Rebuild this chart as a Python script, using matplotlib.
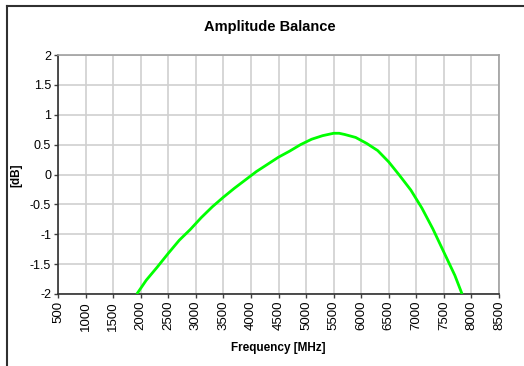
import matplotlib
matplotlib.use("Agg")
import matplotlib.pyplot as plt
from matplotlib.lines import Line2D

plt.rcParams["font.family"] = ["Liberation Sans", "DejaVu Sans"]
plt.rcParams["axes.unicode_minus"] = False

# amplitude balance vs frequency
freq_mhz = [1930, 2100, 2300, 2500, 2700, 2900, 3100, 3300, 3500, 3700, 3900,
            4100, 4300, 4500, 4700, 4900, 5100, 5300, 5500, 5600, 5700, 5900,
            6100, 6300, 6500, 6700, 6900, 7100, 7300, 7500, 7700, 7830]
balance_db = [-2.0, -1.77, -1.55, -1.32, -1.10, -0.92, -0.72, -0.54, -0.38, -0.23, -0.09,
              0.05, 0.17, 0.29, 0.39, 0.50, 0.59, 0.65, 0.69, 0.69, 0.67, 0.62,
              0.52, 0.40, 0.21, -0.02, -0.26, -0.56, -0.91, -1.30, -1.69, -2.0]
x_ticks = list(range(500, 8501, 500))
y_ticks = [-2, -1.5, -1, -0.5, 0, 0.5, 1, 1.5, 2]
y_labels = ["-2", "-1.5", "-1", "-0.5", "0", "0.5", "1", "1.5", "2"]

fig = plt.figure(figsize=(5.24, 3.66), dpi=100, facecolor="white")
ax = fig.add_axes([58 / 524, 1 - 294 / 366, 441 / 524, 239 / 366])

ax.plot(freq_mhz, balance_db, color="#00ff00", lw=2, solid_capstyle="butt", zorder=3)

ax.set_xlim(500, 8500)
ax.set_ylim(-2, 2)
ax.set_xticks(x_ticks)
ax.set_xticklabels([str(v) for v in x_ticks], rotation=90, fontsize=9.5)
ax.set_yticks(y_ticks)
ax.set_yticklabels(y_labels, fontsize=9)
ax.tick_params(direction="out", length=3, width=1, color="#404040", pad=2)
ax.grid(True, color="#d0d0d0", lw=1.2)
ax.set_axisbelow(True)

for s in ("top", "right"):
    ax.spines[s].set_color("#a0a0a0")
    ax.spines[s].set_linewidth(1.2)
for s in ("left", "bottom"):
    ax.spines[s].set_color("#303030")
    ax.spines[s].set_linewidth(1.2)

fig.text(270 / 524, 1 - 27 / 366, "Amplitude Balance", ha="center", va="center",
         fontsize=10.5, fontweight="bold")
fig.text(278 / 524, 1 - 348 / 366, "Frequency [MHz]", ha="center", va="center",
         fontsize=8.5, fontweight="bold")
fig.text(16 / 524, 1 - 175 / 366, "[dB]", ha="center", va="center",
         fontsize=8.5, fontweight="bold", rotation=90)

# outer chart frame (only top and left edges visible)
fig.add_artist(Line2D([7 / 524, 1], [1 - 6 / 366, 1 - 6 / 366], color="#303030", lw=1.5,
                      transform=fig.transFigure))
fig.add_artist(Line2D([7 / 524, 7 / 524], [0, 1 - 6 / 366], color="#303030", lw=1.5,
                      transform=fig.transFigure))

fig.savefig("out.png", dpi=100, facecolor="white")
